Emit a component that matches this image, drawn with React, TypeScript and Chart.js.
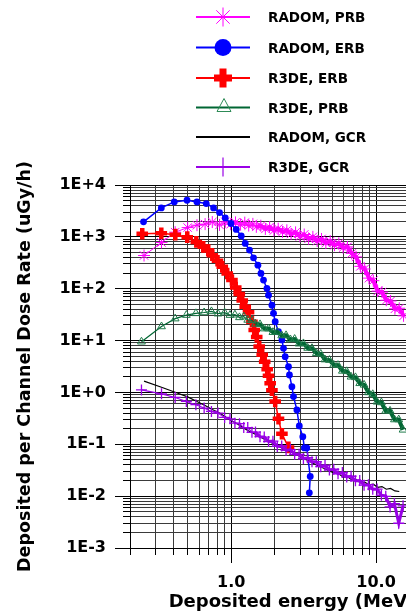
import React, { useEffect, useRef } from 'react';
import { Chart, registerables } from 'chart.js';

Chart.register(...registerables);

const FONT = "'DejaVu Sans', 'Liberation Sans', sans-serif";

// ---------- data ----------
const radomE = [0.25, 0.33, 0.41, 0.50, 0.58, 0.66, 0.74, 0.83, 0.91, 0.99, 1.07, 1.16, 1.24, 1.32, 1.41, 1.49, 1.60, 1.72, 1.84, 1.97, 2.11, 2.26, 2.42, 2.59, 2.78, 2.98, 3.19, 3.42, 3.66, 3.92, 4.20, 4.50, 4.82, 5.16, 5.53, 5.92, 6.34, 6.79, 7.27, 7.79, 8.34, 8.93, 9.57, 10.25, 10.98, 11.76, 12.59, 13.49, 14.45, 15.47];
const radomPrbD = [437, 780, 1230, 1510, 1680, 1760, 1930, 1700, 1950, 1750, 1900, 1720, 1880, 1650, 1780, 1560, 1640, 1420, 1540, 1330, 1440, 1250, 1340, 1140, 1220, 1020, 1110, 920, 1000, 830, 910, 760, 830, 690, 750, 620, 640, 480, 410, 270, 240, 160, 143, 90, 86, 60, 58, 41, 42, 30];
const radomGcrD = [1.65, 1.26, 1.01, 0.82, 0.67, 0.56, 0.47, 0.40, 0.34, 0.29, 0.26, 0.225, 0.20, 0.18, 0.165, 0.153, 0.137, 0.123, 0.112, 0.101, 0.091, 0.084, 0.078, 0.072, 0.065, 0.058, 0.052, 0.048, 0.043, 0.040, 0.036, 0.033, 0.030, 0.028, 0.027, 0.0232, 0.0238, 0.0205, 0.0210, 0.0180, 0.0186, 0.0165, 0.0170, 0.0148, 0.0153, 0.0136, 0.0141, 0.0126, 0.0123];

const radomErbE = [0.248, 0.329, 0.404, 0.495, 0.580, 0.672, 0.755, 0.830, 0.909, 0.995, 1.083, 1.172, 1.249, 1.337, 1.425, 1.528, 1.603, 1.670, 1.763, 1.808, 1.909, 1.958, 2.011, 2.119, 2.238, 2.295, 2.357, 2.484, 2.523, 2.623, 2.690, 2.839, 2.950, 3.12, 3.20, 3.32, 3.51, 3.46];
const radomErbD = [1945, 3614, 4713, 5085, 4713, 4393, 3614, 2945, 2317, 1811, 1388, 1044, 746, 555, 394, 285, 197, 147, 101, 75, 48, 33.5, 23.1, 14.8, 10.3, 7.1, 4.89, 3.14, 2.17, 1.29, 0.83, 0.46, 0.226, 0.14, 0.085, 0.085, 0.024, 0.0116];

const r3deErbE = [0.243, 0.329, 0.411, 0.497, 0.574, 0.641, 0.694, 0.740, 0.804, 0.867, 0.938, 1.011, 1.074, 1.136, 1.191, 1.249, 1.316, 1.389, 1.441, 1.499, 1.560, 1.636, 1.702, 1.771, 1.808, 1.857, 1.909, 2.011, 2.119, 2.238, 2.484];
const r3deErbD = [1151, 1177, 1102, 986, 800, 641, 554, 444, 347, 264, 197, 147, 105, 79, 59, 45, 35, 23, 16, 11.7, 7.7, 5.3, 3.9, 2.8, 2.1, 1.5, 1.1, 0.67, 0.31, 0.16, 0.087];

const r3deE = [0.24, 0.33, 0.41, 0.49, 0.57, 0.65, 0.73, 0.81, 0.90, 0.98, 1.06, 1.14, 1.22, 1.30, 1.39, 1.47, 1.58, 1.69, 1.81, 1.94, 2.08, 2.23, 2.39, 2.56, 2.74, 2.94, 3.15, 3.37, 3.61, 3.87, 4.15, 4.44, 4.76, 5.10, 5.46, 5.85, 6.27, 6.72, 7.20, 7.71, 8.26, 8.85, 9.48, 10.16, 10.88, 11.66, 12.49, 13.38, 14.33, 15.35];
const r3dePrbD = [9.5, 18.7, 26.5, 31, 33.5, 34.8, 36.5, 33, 34.5, 31, 31.5, 28, 29, 25, 24.5, 21, 20.5, 17, 17, 14.5, 14.6, 12.5, 12.6, 10.5, 10.7, 8.7, 8.8, 7.2, 7.1, 5.7, 5.5, 4.3, 4.2, 3.4, 3.35, 2.6, 2.55, 2.0, 1.95, 1.5, 1.4, 1.0, 0.92, 0.66, 0.64, 0.44, 0.44, 0.30, 0.30, 0.19];
const r3deGcrD = [1.12, 0.94, 0.80, 0.67, 0.58, 0.50, 0.43, 0.40, 0.33, 0.31, 0.255, 0.25, 0.21, 0.21, 0.17, 0.172, 0.14, 0.138, 0.113, 0.115, 0.091, 0.093, 0.076, 0.079, 0.064, 0.064, 0.053, 0.055, 0.046, 0.046, 0.037, 0.039, 0.032, 0.033, 0.027, 0.0285, 0.0235, 0.0242, 0.0198, 0.0200, 0.0163, 0.0166, 0.0136, 0.0137, 0.0104, 0.0099, 0.0062, 0.0072, 0.0030, 0.0065];

const seriesLabels = ['RADOM, PRB', 'RADOM, ERB', 'R3DE, ERB', 'R3DE, PRB', 'RADOM, GCR', 'R3DE, GCR'];
const seriesColors = ['#FF00FF', '#0000FF', '#FF0000', '#006633', '#000000', '#9900E6'];

// ---------- axes ----------
const yMajorTicks = [1e-3, 1e-2, 1e-1, 1, 10, 100, 1000, 1e4];
const yMajorLabels = ['1E-3', '1E-2', '1E-1', '1E+0', '1E+1', '1E+2', '1E+3', '1E+4'];
const xTickValues = [0.2, 0.3, 0.4, 0.5, 0.6, 0.7, 0.8, 0.9, 1, 2, 3, 4, 5, 6, 7, 8, 9, 10, 20, 30];
const xMajorTicks = [1, 10];
const xMajorLabels = ['1.0', '10.0'];
const minorMultipliers = [2, 3, 4, 5, 6, 7, 8, 9];

const X_MIN = 0.2;
const X_MAX = 34.5;
const Y_MIN = 1e-3;
const Y_MAX = 1e4;
// energy above which channels are densely packed (drawn as a thicker band)
const DENSE_FROM = 1.45;

function isMajor(v: number) {
  if (!(v > 0)) return false;
  const l = Math.log10(v);
  return Math.abs(l - Math.round(l)) < 1e-6;
}
function labelFor(v: number, majors: number[], labels: string[]) {
  for (let i = 0; i < majors.length; i++) {
    if (Math.abs(v - majors[i]) / majors[i] < 1e-6) return labels[i];
  }
  return '';
}

const yTickValues: number[] = [];
yMajorTicks.forEach((m, i) => {
  yTickValues.push(m);
  if (i < yMajorTicks.length - 1) minorMultipliers.forEach((k) => yTickValues.push(m * k));
});

const pts = (xs: number[], ys: number[]) => ys.map((y, i) => ({ x: xs[i], y }));
const denseWidth = (thin: number, thick: number) => (ctx: any) =>
  ctx.p0 && ctx.p0.parsed && ctx.p0.parsed.x >= DENSE_FROM ? thick : thin;

const tickMarks = {
  id: 'tickMarks',
  afterDraw(chart: any) {
    const { ctx, chartArea, scales } = chart;
    const xs = scales.x;
    const ys = scales.y;
    ctx.save();
    ctx.strokeStyle = '#000';
    ctx.lineWidth = 1;
    ctx.beginPath();
    for (const t of ys.ticks) {
      const p = Math.round(ys.getPixelForValue(t.value) - 0.5) + 0.5;
      const len = isMajor(t.value) ? 15 : 7;
      ctx.moveTo(chartArea.left - len, p);
      ctx.lineTo(chartArea.left, p);
    }
    for (const t of xs.ticks) {
      const p = Math.round(xs.getPixelForValue(t.value) - 0.5) + 0.5;
      const len = isMajor(t.value) ? 15 : 7;
      ctx.moveTo(p, chartArea.bottom);
      ctx.lineTo(p, chartArea.bottom + len);
    }
    ctx.stroke();
    ctx.restore();
  },
};

export default function App() {
  const ref = useRef<HTMLCanvasElement>(null);

  useEffect(() => {
    if (!ref.current) return;
    const gridColor = (c: any) => (c.tick && isMajor(c.tick.value) ? '#000000' : '#3a3a3a');
    const chart = new Chart(ref.current, {
      type: 'line',
      data: {
        datasets: [
          {
            label: seriesLabels[0],
            data: pts(radomE, radomPrbD),
            borderColor: seriesColors[0],
            backgroundColor: seriesColors[0],
            borderWidth: 1,
            segment: { borderWidth: denseWidth(1, 4) },
            pointStyle: 'star',
            pointRadius: 6,
            pointBorderWidth: 1,
            pointBorderColor: seriesColors[0],
            order: 6,
          },
          {
            label: seriesLabels[1],
            data: pts(radomErbE, radomErbD),
            borderColor: seriesColors[1],
            backgroundColor: seriesColors[1],
            borderWidth: 1.5,
            pointStyle: 'circle',
            pointRadius: 3.4,
            pointBorderWidth: 0,
            pointBackgroundColor: seriesColors[1],
            order: 5,
          },
          {
            label: seriesLabels[2],
            data: pts(r3deErbE, r3deErbD),
            borderColor: seriesColors[2],
            backgroundColor: seriesColors[2],
            borderWidth: 1.5,
            pointStyle: 'cross',
            pointRadius: 5.8,
            pointBorderWidth: 4.5,
            pointBorderColor: seriesColors[2],
            order: 4,
          },
          {
            label: seriesLabels[3],
            data: pts(r3deE, r3dePrbD),
            borderColor: seriesColors[3],
            backgroundColor: 'rgba(0,0,0,0)',
            borderWidth: 1.2,
            segment: { borderWidth: denseWidth(1.2, 4) },
            pointStyle: 'triangle',
            pointRadius: 4.5,
            pointBorderWidth: 1,
            pointBorderColor: '#1F7A4A',
            pointBackgroundColor: 'rgba(0,0,0,0)',
            order: 3,
          },
          {
            label: seriesLabels[4],
            data: pts(radomE, radomGcrD),
            borderColor: seriesColors[4],
            backgroundColor: seriesColors[4],
            borderWidth: 1.2,
            pointRadius: 0,
            order: 2,
          },
          {
            label: seriesLabels[5],
            data: pts(r3deE, r3deGcrD),
            borderColor: seriesColors[5],
            backgroundColor: seriesColors[5],
            borderWidth: 1,
            segment: { borderWidth: denseWidth(1.2, 3) },
            pointStyle: 'cross',
            pointRadius: 5.5,
            pointBorderWidth: 1.3,
            pointBorderColor: seriesColors[5],
            order: 1,
          },
        ],
      },
      options: {
        animation: false,
        responsive: false,
        maintainAspectRatio: false,
        layout: { autoPadding: false, padding: { top: 185, left: 0, right: 0, bottom: 0 } },
        plugins: { legend: { display: false }, tooltip: { enabled: false } },
        elements: { line: { tension: 0, fill: false } },
        scales: {
          x: {
            type: 'logarithmic',
            position: 'bottom',
            min: X_MIN,
            max: X_MAX,
            bounds: 'data',
            afterBuildTicks: (s: any) => {
              s.ticks = xTickValues.map((v) => ({ value: v, major: isMajor(v) }));
            },
            afterFit: (s: any) => {
              s.height = 68;
            },
            ticks: {
              autoSkip: false,
              maxRotation: 0,
              minRotation: 0,
              padding: 0,
              color: '#000',
              font: { family: FONT, size: 16, weight: 'bold' },
              callback: (v: any) => labelFor(Number(v), xMajorTicks, xMajorLabels),
            },
            grid: {
              color: gridColor,
              lineWidth: 1,
              drawTicks: true,
              tickLength: 25,
              tickColor: 'rgba(0,0,0,0)',
            },
            border: { display: true, color: '#000', width: 1 },
            title: {
              display: true,
              text: 'Deposited energy (MeV)',
              color: '#000',
              font: { family: FONT, size: 18, weight: 'bold' },
              padding: { top: 0, bottom: 3 },
            },
          },
          y: {
            type: 'logarithmic',
            position: 'left',
            min: Y_MIN,
            max: Y_MAX,
            bounds: 'data',
            afterBuildTicks: (s: any) => {
              s.ticks = yTickValues.map((v) => ({ value: v, major: isMajor(v) }));
            },
            afterFit: (s: any) => {
              s.width = 130;
            },
            ticks: {
              autoSkip: false,
              padding: 0,
              color: '#000',
              font: { family: FONT, size: 16, weight: 'bold' },
              callback: (v: any) => labelFor(Number(v), yMajorTicks, yMajorLabels),
            },
            grid: {
              color: gridColor,
              lineWidth: 1,
              drawTicks: true,
              tickLength: 24,
              tickColor: 'rgba(0,0,0,0)',
            },
            border: { display: true, color: '#000', width: 1 },
            title: {
              display: true,
              text: 'Deposited per Channel Dose Rate (uGy/h)',
              color: '#000',
              font: { family: FONT, size: 17.5, weight: 'bold' },
              padding: { top: 15, bottom: 0 },
            },
          },
        },
      } as any,
      plugins: [tickMarks],
    });
    return () => chart.destroy();
  }, []);

  const legendY = [17, 47.5, 78, 107.5, 137, 167];
  const cx = 223;

  const marker = (i: number, y: number) => {
    const c = seriesColors[i];
    switch (i) {
      case 0: {
        const r = 9.5;
        const d = r * 0.7071;
        return (
          <g key={'m' + i} stroke={c} strokeWidth={1}>
            <line x1={cx - r} y1={y} x2={cx + r} y2={y} />
            <line x1={cx} y1={y - r} x2={cx} y2={y + r} />
            <line x1={cx - d} y1={y - d} x2={cx + d} y2={y + d} />
            <line x1={cx - d} y1={y + d} x2={cx + d} y2={y - d} />
          </g>
        );
      }
      case 1:
        return <circle key={'m' + i} cx={cx} cy={y} r={8.5} fill={c} />;
      case 2:
        return (
          <g key={'m' + i} fill={c}>
            <rect x={cx - 9} y={y - 3.5} width={18} height={7} />
            <rect x={cx - 3.5} y={y - 9.5} width={7} height={19} />
          </g>
        );
      case 3:
        return (
          <polygon
            key={'m' + i}
            points={`${cx + 1},${y - 9} ${cx - 6},${y + 4} ${cx + 8},${y + 4}`}
            fill="none"
            stroke="#2E8B57"
            strokeWidth={1}
          />
        );
      case 5:
        return <line key={'m' + i} x1={cx} y1={y - 9.5} x2={cx} y2={y + 9.5} stroke={c} strokeWidth={1.2} />;
      default:
        return null;
    }
  };

  return (
    <div
      style={{
        position: 'fixed',
        left: 0,
        top: 0,
        width: 406,
        height: 616,
        overflow: 'hidden',
        background: '#fff',
      }}
    >
      <canvas
        ref={ref}
        width={454}
        height={616}
        style={{ position: 'absolute', left: 0, top: 0, width: 454, height: 616 }}
      />
      <svg
        width={406}
        height={185}
        style={{ position: 'absolute', left: 0, top: 0, pointerEvents: 'none' }}
      >
        {seriesLabels.map((_, i) => (
          <line
            key={'l' + i}
            x1={196}
            y1={legendY[i]}
            x2={250}
            y2={legendY[i]}
            stroke={seriesColors[i]}
            strokeWidth={2}
          />
        ))}
        {seriesLabels.map((_, i) => marker(i, legendY[i]))}
      </svg>
      {seriesLabels.map((t, i) => (
        <div
          key={'t' + i}
          style={{
            position: 'absolute',
            left: 268,
            top: legendY[i] - 10,
            height: 20,
            lineHeight: '20px',
            fontFamily: FONT,
            fontWeight: 'bold',
            fontSize: 13.5,
            color: '#000',
            whiteSpace: 'nowrap',
          }}
        >
          {t}
        </div>
      ))}
    </div>
  );
}
